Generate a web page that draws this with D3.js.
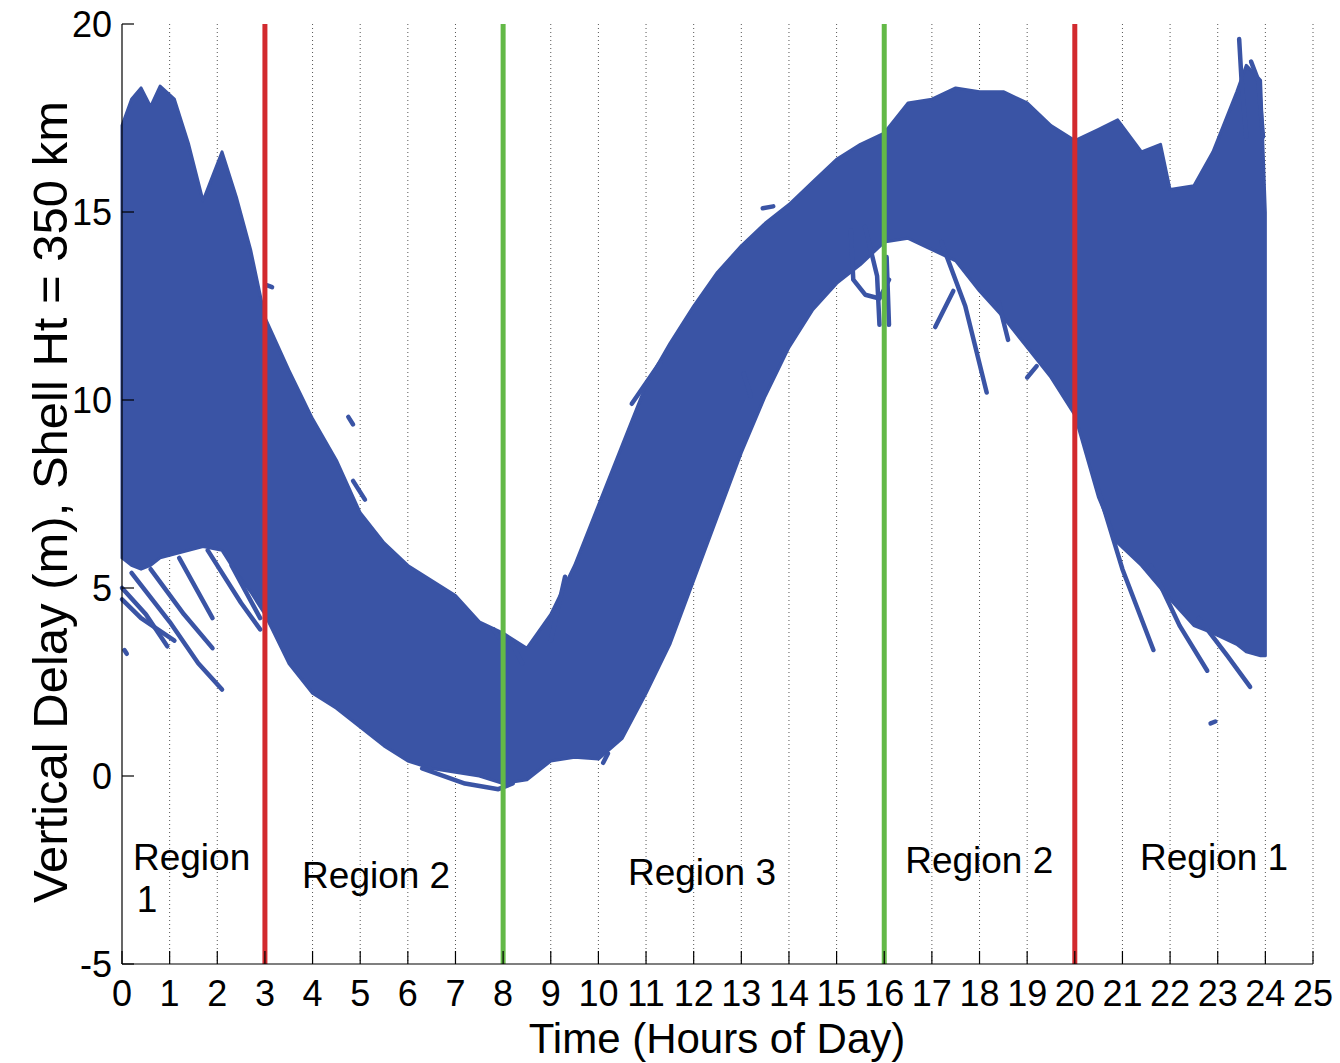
<!DOCTYPE html>
<html lang="en">
<head>
<meta charset="UTF-8">
<title>Vertical Delay vs Time of Day</title>
<script src="https://d3js.org/d3.v7.min.js"></script>
<style>
    body { margin: 0; background: #fff; }
    svg { display: block; font-family: "Liberation Sans", Arial, sans-serif; }
    .grid line { stroke: #555; stroke-width: 1; stroke-dasharray: 1,3; }
    .axis-line { stroke: #000; stroke-width: 1.2; }
    .tick-mark { stroke: #000; stroke-width: 1.2; }
    .band { fill: #3a54a5; stroke: #3a54a5; stroke-width: 3; stroke-linejoin: round; }
    .stray { fill: none; stroke: #3a54a5; stroke-width: 4.5; stroke-linecap: round; stroke-linejoin: round; }
    .tick-label { font-size: 36px; fill: #000; }
    .axis-title { fill: #000; }
    .region { font-size: 37px; fill: #000; }
</style>
</head>
<body>
<svg id="chart" width="1340" height="1063"></svg>
<script>
// envelope of the plotted delays
const hours      = [0, 0.2, 0.4, 0.6, 0.8, 1.1, 1.4, 1.7, 2.1, 2.4, 2.7, 3.0, 3.5, 4.0, 4.5, 5.0, 5.5, 6.0, 6.5, 7.0,
                    7.5, 8.0, 8.5, 9.0, 9.5, 10.0, 10.5, 11.0, 11.5, 12.0, 12.5, 13.0, 13.5, 14.0, 14.5, 15.0, 15.5, 16.0,
                    16.5, 17.0, 17.5, 18.0, 18.5, 19.0, 19.5, 20.0, 20.5, 20.9, 21.4, 21.8, 22.0, 22.5, 22.9, 23.4, 23.6, 23.9, 24.0];
const upperDelay = [17.3, 18.0, 18.3, 17.8, 18.35, 18.0, 16.8, 15.3, 16.6, 15.4, 14.0, 12.2, 10.8, 9.5, 8.4, 7.0, 6.2, 5.6, 5.2, 4.8,
                    4.1, 3.8, 3.4, 4.3, 5.6, 7.2, 8.8, 10.4, 11.5, 12.5, 13.4, 14.1, 14.7, 15.2, 15.8, 16.4, 16.8, 17.1,
                    17.9, 18.0, 18.3, 18.2, 18.2, 17.9, 17.3, 16.9, 17.2, 17.45, 16.6, 16.8, 15.6, 15.7, 16.6, 18.2, 18.9, 18.5, 15.0];
const lowerDelay = [5.8, 5.6, 5.5, 5.6, 5.8, 5.9, 6.0, 6.1, 6.0, 5.4, 4.9, 4.3, 3.0, 2.2, 1.8, 1.3, 0.8, 0.4, 0.2, 0.1,
                    0.0, -0.2, -0.1, 0.4, 0.5, 0.45, 1.0, 2.2, 3.5, 5.2, 6.9, 8.6, 10.1, 11.4, 12.4, 13.1, 13.6, 14.2,
                    14.3, 14.0, 13.7, 12.9, 12.2, 11.4, 10.6, 9.6, 7.4, 6.2, 5.6, 5.0, 4.7, 4.0, 3.8, 3.5, 3.3, 3.2, 3.2];

// single satellite traces that stick out of the band [hour, delay]
const strayTraces = [
    [[0.0, 5.0], [0.5, 4.3], [0.95, 3.45]],
    [[0.2, 5.4], [1.0, 4.1], [1.6, 3.0], [2.1, 2.3]],
    [[0.6, 5.5], [1.3, 4.3], [1.9, 3.4]],
    [[1.2, 5.8], [1.9, 4.2]],
    [[1.8, 6.0], [2.5, 4.6], [2.9, 3.9]],
    [[0.0, 4.7], [0.4, 4.2], [1.1, 3.6]],
    [[0.05, 3.35], [0.1, 3.25]],
    [[2.3, 5.6], [2.9, 4.2]],
    [[3.05, 13.05], [3.15, 13.0]],
    [[4.75, 9.55], [4.85, 9.35]],
    [[4.85, 7.85], [5.1, 7.35]],
    [[7.8, 3.9], [7.9, 3.7]],
    [[8.2, 3.5], [8.4, 3.0]],
    [[6.3, 0.2], [7.2, -0.2], [7.9, -0.35], [8.2, -0.2]],
    [[9.0, 3.6], [9.3, 5.3]],
    [[10.7, 9.9], [11.3, 11.0]],
    [[13.45, 15.1], [13.67, 15.15]],
    [[13.05, 10.7], [13.2, 10.1]],
    [[10.1, 0.35], [10.2, 0.6]],
    [[15.3, 14.5], [15.35, 13.2], [15.6, 12.8], [15.9, 12.7], [16.1, 13.2]],
    [[15.6, 14.6], [15.85, 13.3], [15.9, 12.0]],
    [[16.05, 13.8], [16.1, 12.0]],
    [[17.45, 12.9], [17.07, 11.94]],
    [[17.2, 14.2], [17.7, 12.5], [18.15, 10.2]],
    [[18.4, 12.6], [18.6, 11.6]],
    [[19.0, 10.6], [19.2, 10.9]],
    [[20.4, 8.0], [21.0, 5.5], [21.65, 3.35]],
    [[21.6, 5.6], [22.2, 4.0], [22.78, 2.8]],
    [[22.6, 4.2], [23.2, 3.2], [23.68, 2.37]],
    [[22.85, 1.4], [22.95, 1.45]],
    [[23.45, 19.6], [23.5, 18.5], [23.6, 17.0]],
    [[23.7, 19.0], [23.85, 18.5], [23.95, 17.0]]
];

const xTicks = d3.range(0, 26);
const yTicks = [-5, 0, 5, 10, 15, 20];
const boundaryHours = [3, 8, 16, 20];
const boundaryColors = ["#d22a2e", "#63b947", "#63b947", "#d22a2e"];
const regionNames = ["Region", "1", "Region 2", "Region 3", "Region 2", "Region 1"];
const regionHours = [0.23, 0.31, 3.78, 10.62, 16.44, 21.37];
const regionDelays = [-2.5, -3.62, -2.98, -2.9, -2.58, -2.5];

const svg = d3.select("#chart");
const plotLeft = 122, plotRight = 1313, plotTop = 24, plotBottom = 964;

const x = d3.scaleLinear().domain([0, 25]).range([plotLeft, plotRight]);
const y = d3.scaleLinear().domain([-5, 20]).range([plotBottom, plotTop]);

// dotted vertical grid
svg.append("g").attr("class", "grid")
    .selectAll("line")
    .data(xTicks.filter(d => d > 0))
    .join("line")
    .attr("x1", d => x(d)).attr("x2", d => x(d))
    .attr("y1", plotTop).attr("y2", plotBottom);

// the band of delays
const band = hours.map((h, i) => ({h: h, hi: upperDelay[i], lo: lowerDelay[i]}));
const area = d3.area()
    .x(d => x(d.h))
    .y0(d => y(d.lo))
    .y1(d => y(d.hi));
svg.append("path").attr("class", "band").attr("d", area(band));

const line = d3.line().x(d => x(d[0])).y(d => y(d[1]));
svg.append("g").selectAll("path")
    .data(strayTraces)
    .join("path")
    .attr("class", "stray")
    .attr("d", line);

// region boundaries
svg.append("g").selectAll("line")
    .data(boundaryHours)
    .join("line")
    .attr("x1", d => x(d)).attr("x2", d => x(d))
    .attr("y1", y(20)).attr("y2", y(-5))
    .attr("stroke", (d, i) => boundaryColors[i])
    .attr("stroke-width", 5);

// axes (MATLAB style, ticks inside, no box)
svg.append("line").attr("class", "axis-line")
    .attr("x1", plotLeft).attr("x2", plotLeft).attr("y1", plotTop).attr("y2", plotBottom);
svg.append("line").attr("class", "axis-line")
    .attr("x1", plotLeft).attr("x2", plotRight).attr("y1", plotBottom).attr("y2", plotBottom);

svg.append("g").selectAll("line")
    .data(xTicks)
    .join("line")
    .attr("class", "tick-mark")
    .attr("x1", d => x(d)).attr("x2", d => x(d))
    .attr("y1", plotBottom).attr("y2", plotBottom - 13);

svg.append("g").selectAll("line")
    .data(yTicks)
    .join("line")
    .attr("class", "tick-mark")
    .attr("x1", plotLeft).attr("x2", plotLeft + 12)
    .attr("y1", d => y(d)).attr("y2", d => y(d));

svg.append("g").selectAll("text")
    .data(xTicks)
    .join("text")
    .attr("class", "tick-label")
    .attr("x", d => x(d))
    .attr("y", 1006)
    .attr("text-anchor", "middle")
    .text(d => d);

svg.append("g").selectAll("text")
    .data(yTicks)
    .join("text")
    .attr("class", "tick-label")
    .attr("x", 112)
    .attr("y", d => y(d) + 12.5)
    .attr("text-anchor", "end")
    .text(d => d);

svg.append("text")
    .attr("class", "axis-title")
    .attr("x", 717).attr("y", 1053)
    .attr("text-anchor", "middle")
    .style("font-size", "42px")
    .text("Time (Hours of Day)");

svg.append("text")
    .attr("class", "axis-title")
    .attr("transform", "translate(67,502) rotate(-90)")
    .attr("text-anchor", "middle")
    .style("font-size", "49px")
    .text("Vertical Delay (m), Shell Ht = 350 km");

svg.append("g").selectAll("text")
    .data(regionNames)
    .join("text")
    .attr("class", "region")
    .attr("x", (d, i) => x(regionHours[i]))
    .attr("y", (d, i) => y(regionDelays[i]))
    .text(d => d);
</script>
</body>
</html>
